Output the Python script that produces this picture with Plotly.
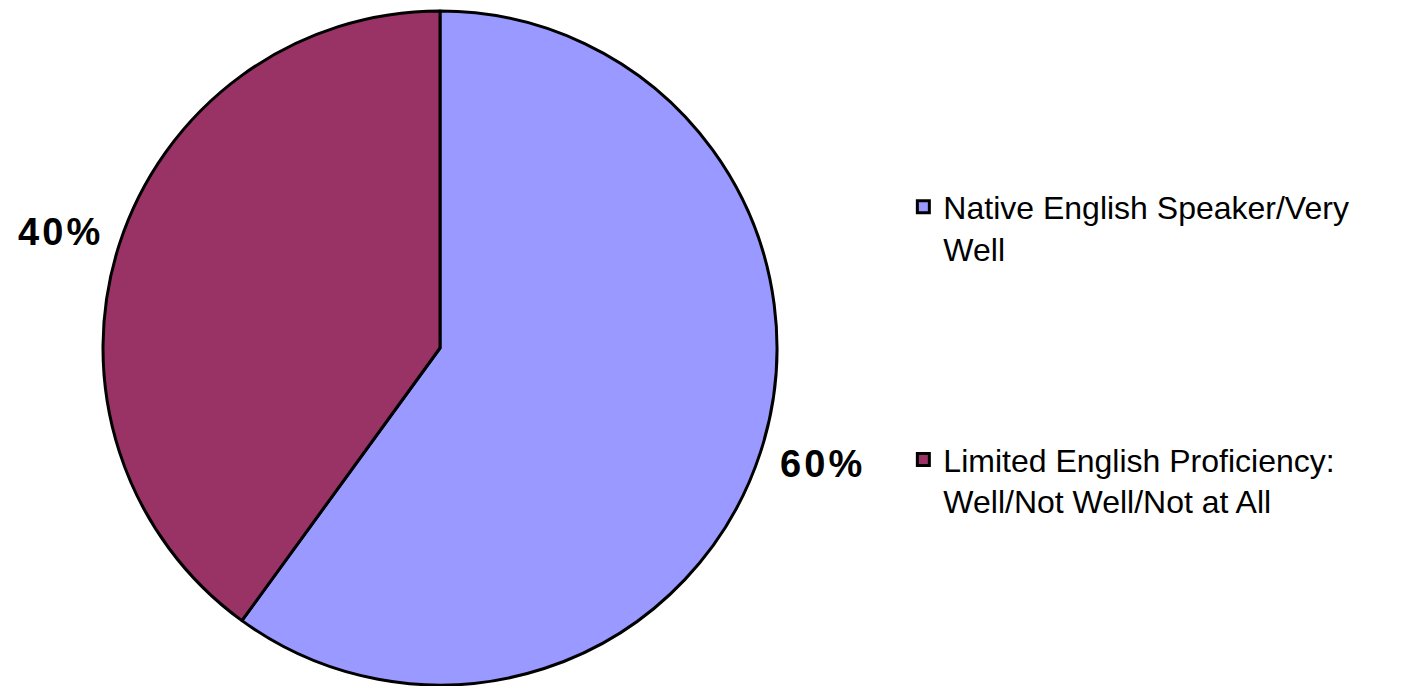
import math
import plotly.graph_objects as go

categories = ["Native English Speaker/Very<br>Well<br> <br> <br> <br> ",
              "Limited English Proficiency:<br>Well/Not Well/Not at All"]
values = [60, 40]
colors = ["#9999FF", "#993366"]

W, H = 1410, 686
# page body has an 8px margin, so coordinates are given relative to the figure
cx, cy, r = 432, 340, 337

fig = go.Figure(go.Pie(
    labels=categories,
    values=values,
    sort=False,
    direction="clockwise",
    rotation=0,
    marker=dict(colors=colors, line=dict(color="black", width=3)),
    textinfo="none",
    domain=dict(x=[(cx - r) / W, (cx + r) / W], y=[(H - cy - r) / H, (H - cy + r) / H]),
    hoverinfo="skip",
))

# percentage labels placed outside each slice, near the slice's mid-angle
total = sum(values)
start = 0.0
for v in values:
    frac = v / total
    mid = (start + frac / 2) * 2 * math.pi  # clockwise from 12 o'clock
    start += frac
    rr = r * 1.19
    px = cx + rr * math.sin(mid)
    py = cy - rr * math.cos(mid) * 0.94
    txt = "\u200a".join(f"{round(frac * 100)}%")
    fig.add_annotation(
        x=px / W, y=1 - py / H, xref="paper", yref="paper",
        text=txt, showarrow=False, xanchor="center", yanchor="middle",
        font=dict(family="Liberation Sans, Arial, sans-serif", size=38, color="black", weight="bold"),
    )

fig.update_layout(
    width=W, height=H,
    margin=dict(l=0, r=0, t=0, b=0),
    paper_bgcolor="white",
    plot_bgcolor="white",
    showlegend=True,
    legend=dict(
        x=0.635, y=0.75, xanchor="left", yanchor="top",
        valign="top",
        font=dict(family="Liberation Sans, Arial, sans-serif", size=32, color="black"),
        bgcolor="rgba(0,0,0,0)",
    ),
)

fig.write_html("out.html")
